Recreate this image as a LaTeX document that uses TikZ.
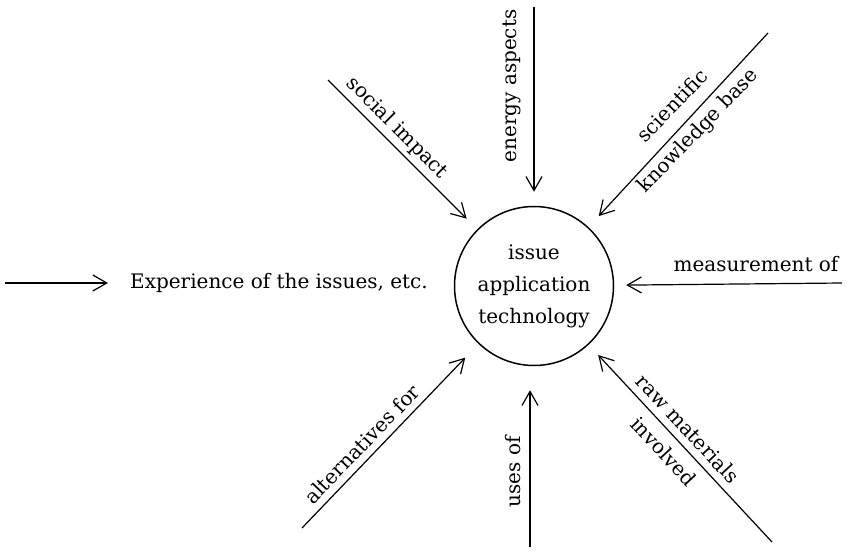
\documentclass[tikz,border=0pt]{standalone}
\usepackage{fontspec}
\setmainfont{DejaVu Serif}
\usetikzlibrary{arrows.meta,positioning}

\begin{document}
\begin{tikzpicture}[x=1pt,y=1pt,
  arr/.style={-{Straight Barb[length=14pt,width=16pt]}, line width=1.2pt},
  lbl/.style={font=\fontsize{20}{30}\selectfont, align=center, inner sep=0pt}]
  \useasboundingbox (0,0) rectangle (846,550);
  % the centre
  \node[draw, circle, line width=1.5pt, minimum size=159pt, inner sep=0pt, align=center, font=\fontsize{20}{32}\selectfont] (tech) at (534,264) {issue\\application\\technology};
  % left hand side
  \coordinate (expStart) at (5,267);
  \node[lbl, anchor=west] (exp) at (130,267) {Experience of the issues, etc.};
  \draw[arr, shorten >=22pt] (expStart) -- (exp.west);
  % arrows into the circle
  \coordinate (energyStart) at (534,543);
  \coordinate (socialStart) at (328,470);
  \coordinate (sciStart) at (768,517);
  \coordinate (measStart) at (842,267);
  \coordinate (rawStart) at (772,8);
  \coordinate (usesStart) at (530,3);
  \coordinate (altStart) at (302,22);
  \draw[arr, shorten >=14pt] (energyStart) -- (tech);
  \draw[arr, shorten >=15pt] (socialStart) -- (tech);
  \draw[arr, shorten >=15pt] (sciStart) -- (tech);
  \draw[arr, shorten >=12pt] (measStart) -- (tech);
  \draw[arr, shorten >=14pt] (rawStart) -- (tech);
  \draw[arr, shorten >=24pt] (usesStart) -- (usesStart |- tech.south);
  \draw[arr, shorten >=19pt] (altStart) -- (tech);
  % labels
  \node[lbl, rotate=90] (energy) at (512,464) {energy aspects};
  \node[lbl, rotate=-45] (social) at (397,422) {social impact};
  \node[lbl, rotate=46, font=\fontsize{20}{35}\selectfont] (sci) at (686,431) {scientific\\knowledge base};
  \node[lbl] (meas) at (756,286) {measurement of};
  \node[lbl, rotate=-47, font=\fontsize{20}{33}\selectfont] (raw) at (676,110) {raw materials\\involved};
  \node[lbl, rotate=90] (uses) at (513,78) {uses of};
  \node[lbl, rotate=46] (alt) at (362,106) {alternatives for};
\end{tikzpicture}
\end{document}
